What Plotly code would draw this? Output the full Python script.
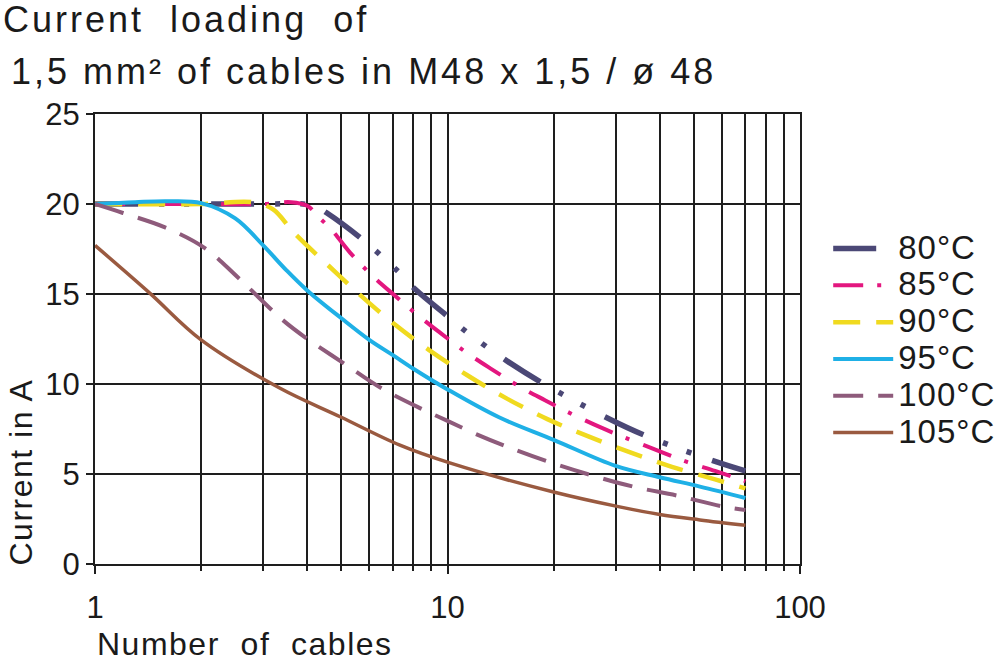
import plotly.graph_objects as go

# ---- data ----
labels = ["80°C", "85°C", "90°C", "95°C", "100°C", "105°C"]

x_80 = [1, 2, 3, 3.9, 4.2, 4.55, 5.72, 7.2, 8.1, 10.1, 11.4, 14.7, 18.8, 28.5, 37.3, 58, 70]
y_80 = [20, 20, 20, 20, 19.9, 19.5, 18.05, 16.3, 15.26, 13.7, 12.85, 11.3, 10.0, 8.1, 7.05, 5.67, 5.17]

x_85 = [1, 2, 3, 3.6, 4, 4.35, 4.7, 5.29, 6.13, 7.06, 8.33, 9.6, 11.4, 13.4, 16.2, 18.9, 22.7, 27.1, 33, 39.5, 47.8, 57.4, 70]
y_85 = [20, 20, 20, 20.1, 19.9, 19.2, 18.55, 17.3, 16.0, 14.94, 13.74, 12.8, 11.7, 10.8, 9.8, 9.1, 8.3, 7.6, 6.9, 6.3, 5.67, 5.17, 4.6]

x_90 = [1, 2, 2.8, 3.2, 3.67, 4.85, 5.58, 7.02, 8.85, 11.35, 14.7, 19.2, 25, 33, 43.3, 57.4, 70]
y_90 = [20, 20, 20.1, 19.7, 18.4, 16.15, 15.04, 13.37, 11.9, 10.5, 9.2, 8.05, 7.1, 6.2, 5.4, 4.7, 4.2]

x_95 = [1, 1.3, 1.6, 2, 2.5, 3, 3.5, 4, 5, 6, 7, 8, 10, 14, 20, 30, 40, 52, 70]
y_95 = [20, 20.1, 20.15, 20.05, 19.2, 17.7, 16.3, 15.2, 13.65, 12.45, 11.6, 10.85, 9.7, 8.15, 6.9, 5.45, 4.82, 4.3, 3.67]

x_100 = [1, 1.2, 1.58, 2.05, 2.55, 3.41, 3.98, 5.08, 6.5, 8.5, 10, 12.1, 14.6, 19.2, 25.4, 33.6, 44.8, 60, 70]
y_100 = [20, 19.5, 18.7, 17.55, 15.9, 13.55, 12.54, 11.15, 9.76, 8.59, 7.95, 7.2, 6.55, 5.7, 4.95, 4.3, 3.8, 3.2, 3.0]

x_105 = [1, 1.43, 2, 3.35, 4.96, 7.33, 10.2, 20, 30.3, 40, 52, 70]
y_105 = [17.7, 15.05, 12.45, 9.76, 8.18, 6.6, 5.6, 4.0, 3.2, 2.75, 2.45, 2.15]

x_major = [1, 10, 100]
x_major_text = ["1", "10", "100"]
x_minor = [2, 3, 4, 5, 6, 7, 8, 9, 20, 30, 40, 50, 60, 70, 80, 90]
y_ticks = [0, 5, 10, 15, 20, 25]

title_line1 = "Current\u00a0 loading\u00a0 of"
title_line2 = "1,5 mm² of cables in M48 x 1,5 / ø 48"
x_title = "Number\u00a0 of\u00a0 cables"
y_title = "Current in A"

# ---- styles ----
FONT = "Arial, Liberation Sans, sans-serif"
INK = "#1a1a1a"
colors = ["#4b4876", "#e3177f", "#f0da1f", "#1fb0e6", "#8e5b7b", "#9a5a40"]
widths = [5.5, 4, 4.5, 4, 4, 3.5]
dashes = ["43px,21px,5px,20px,5px,22px", "30px,14px,4px,15px", "27px,16px",
          "solid", "30px,15px", "solid"]


def spaced(text, px):
    return f'<span style="letter-spacing:{px}px">{text}</span>'


def legend_text(text):
    return f'<span style="font-size:33px;letter-spacing:1px">{text}</span>'


series = [(x_80, y_80), (x_85, y_85), (x_90, y_90), (x_95, y_95), (x_100, y_100), (x_105, y_105)]

fig = go.Figure()
for (xs, ys), name, c, w, d in zip(series, labels, colors, widths, dashes):
    fig.add_trace(go.Scatter(
        x=xs, y=ys, name=legend_text(name), mode="lines",
        line=dict(color=c, width=w, dash=d, shape="spline", smoothing=1.0),
    ))

grid = "#1e1e1e"
fig.update_xaxes(
    type="log", range=[0, 2],
    tickmode="array", tickvals=x_major, ticktext=x_major_text,
    ticks="outside", ticklen=8, tickwidth=2, tickcolor=grid,
    showgrid=True, gridcolor=grid, gridwidth=2,
    minor=dict(tickmode="array", tickvals=x_minor, showgrid=True, gridcolor=grid,
               gridwidth=2, ticks="outside", ticklen=5, tickwidth=1.5, tickcolor=grid),
    showline=True, linecolor=grid, linewidth=2, mirror=True,
    tickfont=dict(family=FONT, size=31, color=INK),
    ticklabelstandoff=7,
    zeroline=False,
)
fig.update_yaxes(
    range=[0, 25], tickmode="array", tickvals=y_ticks,
    ticks="outside", ticklen=7, tickwidth=2, tickcolor=grid,
    showgrid=True, gridcolor=grid, gridwidth=2,
    showline=True, linecolor=grid, linewidth=2, mirror=True,
    tickfont=dict(family=FONT, size=31, color=INK),
    zeroline=False,
)

fig.update_layout(
    width=1000, height=664,
    margin=dict(l=95, r=200, t=114, b=100, autoexpand=False),
    paper_bgcolor="white", plot_bgcolor="white",
    showlegend=True,
    legend=dict(
        x=1.04, y=0.753, xanchor="left", yanchor="top",
        font=dict(family=FONT, size=26, color=INK),
        itemwidth=60, tracegroupgap=0, bgcolor="rgba(0,0,0,0)",
    ),
    annotations=[
        dict(text=spaced(title_line1, 3), x=0, y=1, xref="paper", yref="paper",
             xshift=-94, yshift=117, xanchor="left", yanchor="top", showarrow=False,
             font=dict(family=FONT, size=36, color=INK)),
        dict(text=spaced(title_line2, 3), x=0, y=1, xref="paper", yref="paper",
             xshift=-86, yshift=65, xanchor="left", yanchor="top", showarrow=False,
             font=dict(family=FONT, size=36, color=INK)),
        dict(text=spaced(x_title, 1.5), x=0, y=0, xref="paper", yref="paper",
             xshift=0, yshift=-60, xanchor="left", yanchor="top", showarrow=False,
             font=dict(family=FONT, size=32, color=INK)),
        dict(text=spaced(y_title, 1.5), x=0, y=0, xref="paper", yref="paper",
             xshift=-95, yshift=-4, xanchor="left", yanchor="bottom", textangle=-90,
             showarrow=False, font=dict(family=FONT, size=32, color=INK)),
    ],
)

fig.write_html("out.html")
